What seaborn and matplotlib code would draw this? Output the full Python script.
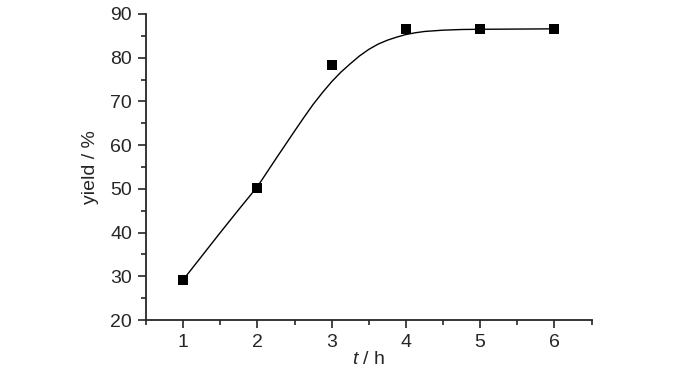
import matplotlib
matplotlib.use("Agg")
import matplotlib.pyplot as plt
import seaborn as sns
from matplotlib.ticker import MultipleLocator

# measured yields
time_h = [1, 2, 3, 4, 5, 6]
yield_pct = [29.2, 50.1, 78.3, 86.5, 86.5, 86.6]

# fitted curve
fit_t = [1, 1.25, 1.5, 1.75, 2, 2.25, 2.5, 2.625, 2.75, 2.875, 3, 3.125, 3.25, 3.375,
         3.5, 3.625, 3.75, 3.875, 4, 4.125, 4.25, 4.5, 4.75, 5, 5.5, 6]
fit_y = [29.2, 34.6, 40.0, 45.3, 50.5, 56.9, 63.2, 66.3, 69.3, 72.0, 74.5, 76.7, 78.6, 80.4,
         81.9, 83.1, 84.0, 84.7, 85.3, 85.7, 86.0, 86.3, 86.45, 86.5, 86.55, 86.6]

sns.set_style("ticks")
plt.rcParams['font.family'] = ['Liberation Sans Narrow', 'Liberation Sans', 'DejaVu Sans']
plt.rcParams['font.size'] = 14
plt.rcParams['mathtext.fontset'] = 'custom'
plt.rcParams['mathtext.it'] = 'Liberation Sans:italic'
plt.rcParams['mathtext.rm'] = 'Liberation Sans'

fig = plt.figure(figsize=(7, 3.73), dpi=100)
ax = fig.add_axes([0.2086, 0.142, 0.6364, 0.8205])

sns.lineplot(x=fit_t, y=fit_y, ax=ax, color='black', linewidth=1.0)
sns.scatterplot(x=time_h, y=yield_pct, ax=ax, marker='s', s=45, color='black',
                edgecolor='black', linewidth=0, zorder=3)

ax.set_xlim(0.5, 6.5)
ax.set_ylim(20, 90)
ax.xaxis.set_major_locator(MultipleLocator(1))
ax.xaxis.set_minor_locator(MultipleLocator(0.5))
ax.yaxis.set_major_locator(MultipleLocator(10))
ax.yaxis.set_minor_locator(MultipleLocator(5))
ax.tick_params(which='major', length=6, width=1.2, direction='out', labelsize=14, pad=4)
ax.tick_params(which='minor', length=3.5, width=1.2, direction='out')

sns.despine(ax=ax)
for side in ['left', 'bottom']:
    ax.spines[side].set_linewidth(1.3)

ax.set_xlabel(r'$\it{t}$ / h', fontsize=14, labelpad=0)
ax.set_ylabel('yield / %', fontsize=14, labelpad=8)

fig.savefig('out.png', dpi=100)
